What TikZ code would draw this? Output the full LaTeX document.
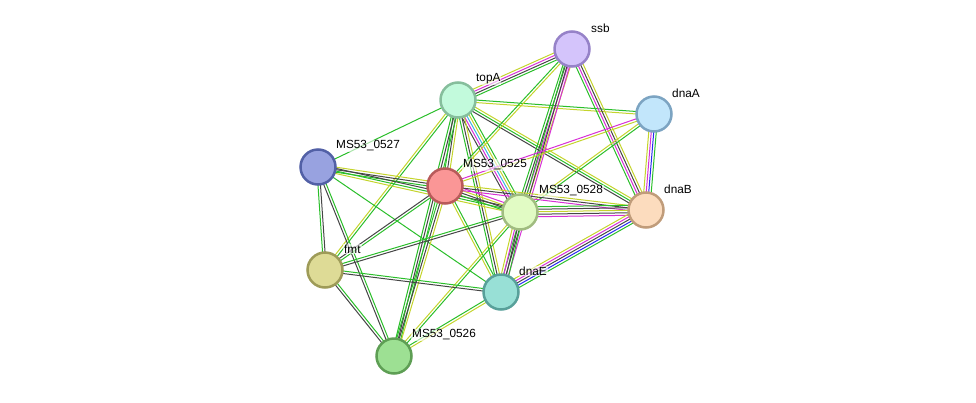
\documentclass[tikz,border=0pt]{standalone}
\usepackage{fontspec}
\setmainfont{Liberation Sans}
\usetikzlibrary{calc,backgrounds}

\definecolor{evgreen}{RGB}{42,190,42}
\definecolor{evlime}{RGB}{196,212,44}
\definecolor{evdark}{RGB}{70,70,70}
\definecolor{evmagenta}{RGB}{214,48,214}
\definecolor{evcyan}{RGB}{60,180,225}
\definecolor{evblue}{RGB}{40,40,240}

\definecolor{ssbfill}{RGB}{212,196,251}\definecolor{ssbline}{RGB}{150,130,200}
\definecolor{dnaAfill}{RGB}{194,230,251}\definecolor{dnaAline}{RGB}{124,164,194}
\definecolor{topAfill}{RGB}{194,250,220}\definecolor{topAline}{RGB}{134,190,156}
\definecolor{s0527fill}{RGB}{152,162,224}\definecolor{s0527line}{RGB}{82,96,166}
\definecolor{s0525fill}{RGB}{250,150,150}\definecolor{s0525line}{RGB}{184,90,90}
\definecolor{s0528fill}{RGB}{225,251,196}\definecolor{s0528line}{RGB}{160,188,128}
\definecolor{dnaBfill}{RGB}{252,220,190}\definecolor{dnaBline}{RGB}{192,156,122}
\definecolor{fmtfill}{RGB}{222,219,150}\definecolor{fmtline}{RGB}{158,155,88}
\definecolor{dnaEfill}{RGB}{152,224,214}\definecolor{dnaEline}{RGB}{88,160,154}
\definecolor{s0526fill}{RGB}{157,224,147}\definecolor{s0526line}{RGB}{94,158,84}

\newcommand{\strlink}[3]{%
  \foreach \col [count=\n] in {#3}{\xdef\ncol{\n}}%
  \foreach \col [count=\k] in {#3}{%
    \pgfmathsetmacro{\off}{(\k-(\ncol+1)/2)*2.5}%
    \draw[link, \col] ($(#1.center)!\off pt!90:(#2.center)$) -- ($(#2.center)!\off pt!-90:(#1.center)$);
  }%
}

\begin{document}
\begin{tikzpicture}[
x=1pt, y=-1pt,
prot/.style={circle, inner sep=0pt, minimum size=35pt, line width=2.5pt, fill=#1fill, draw=#1line},
lbl/.style={anchor=west, inner sep=1pt, fill=white, fill opacity=0.6, text opacity=1, font=\fontsize{11.8}{14}\selectfont},
link/.style={line width=1pt}
]
\useasboundingbox (0,0) rectangle (976,402);
\node[prot=ssb] (ssb) at (572,49) {};
\node[prot=dnaA] (dnaA) at (654,114) {};
\node[prot=topA] (topA) at (458,100) {};
\node[prot=s0527] (s0527) at (318,167) {};
\node[prot=s0525] (s0525) at (445,186) {};
\node[prot=s0528] (s0528) at (520,212) {};
\node[prot=dnaB] (dnaB) at (646,210) {};
\node[prot=fmt] (fmt) at (325,270) {};
\node[prot=dnaE] (dnaE) at (501,292) {};
\node[prot=s0526] (s0526) at (394,356) {};
\node[lbl] (ssb-l) at ($(ssb)+(18,-21)$) {ssb};
\node[lbl] (dnaA-l) at ($(dnaA)+(17,-21)$) {dnaA};
\node[lbl] (topA-l) at ($(topA)+(17,-21)$) {topA};
\node[lbl] (s0527-l) at ($(s0527)+(17,-21)$) {MS53\_0527};
\node[lbl] (s0525-l) at ($(s0525)+(17,-21)$) {MS53\_0525};
\node[lbl] (s0528-l) at ($(s0528)+(18,-21)$) {MS53\_0528};
\node[lbl] (dnaB-l) at ($(dnaB)+(17,-21)$) {dnaB};
\node[lbl] (fmt-l) at ($(fmt)+(18,-21)$) {fmt};
\node[lbl] (dnaE-l) at ($(dnaE)+(17,-21)$) {dnaE};
\node[lbl] (s0526-l) at ($(s0526)+(17,-21)$) {MS53\_0526};
\begin{scope}[on background layer]
\strlink{topA}{ssb}{evgreen,evdark,evmagenta,evlime}
\strlink{topA}{dnaA}{evlime,evgreen}
\strlink{topA}{s0527}{evgreen}
\strlink{topA}{s0525}{evgreen,evdark,evlime}
\strlink{topA}{s0528}{evdark,evmagenta,evcyan,evlime,evgreen}
\strlink{topA}{dnaB}{evdark,evgreen,evlime}
\strlink{topA}{dnaE}{evgreen,evdark,evlime}
\strlink{topA}{s0526}{evgreen,evdark,evgreen}
\strlink{topA}{fmt}{evlime,evgreen}
\strlink{ssb}{s0525}{evgreen,evlime}
\strlink{ssb}{s0528}{evgreen,evdark,evmagenta,evlime}
\strlink{ssb}{dnaE}{evgreen,evdark,evmagenta}
\strlink{ssb}{dnaB}{evgreen,evmagenta,evdark,evlime}
\strlink{dnaA}{s0525}{evmagenta,evlime}
\strlink{dnaA}{s0528}{evlime,evgreen}
\strlink{dnaA}{dnaB}{evlime,evmagenta,evblue,evgreen}
\strlink{s0527}{s0525}{evgreen,evdark,evlime}
\strlink{s0527}{s0528}{evlime,evgreen,evdark}
\strlink{s0527}{fmt}{evgreen,evdark}
\strlink{s0527}{s0526}{evdark,evgreen}
\strlink{s0527}{dnaE}{evgreen}
\strlink{s0525}{s0528}{evgreen,evdark,evlime,evmagenta}
\strlink{s0525}{dnaB}{evmagenta,evdark,evlime}
\strlink{s0525}{fmt}{evdark,evgreen}
\strlink{s0525}{dnaE}{evlime,evgreen}
\strlink{s0525}{s0526}{evgreen,evdark,evlime}
\strlink{s0528}{dnaB}{evmagenta,evdark,evlime,evdark,evgreen}
\strlink{s0528}{dnaE}{evlime,evmagenta,evdark,evgreen}
\strlink{s0528}{fmt}{evgreen,evdark}
\strlink{s0528}{s0526}{evlime,evgreen}
\strlink{dnaB}{dnaE}{evlime,evmagenta,evdark,evblue,evgreen}
\strlink{fmt}{dnaE}{evdark,evgreen}
\strlink{fmt}{s0526}{evdark,evgreen}
\strlink{dnaE}{s0526}{evgreen,evlime}
\end{scope}
\end{tikzpicture}
\end{document}
